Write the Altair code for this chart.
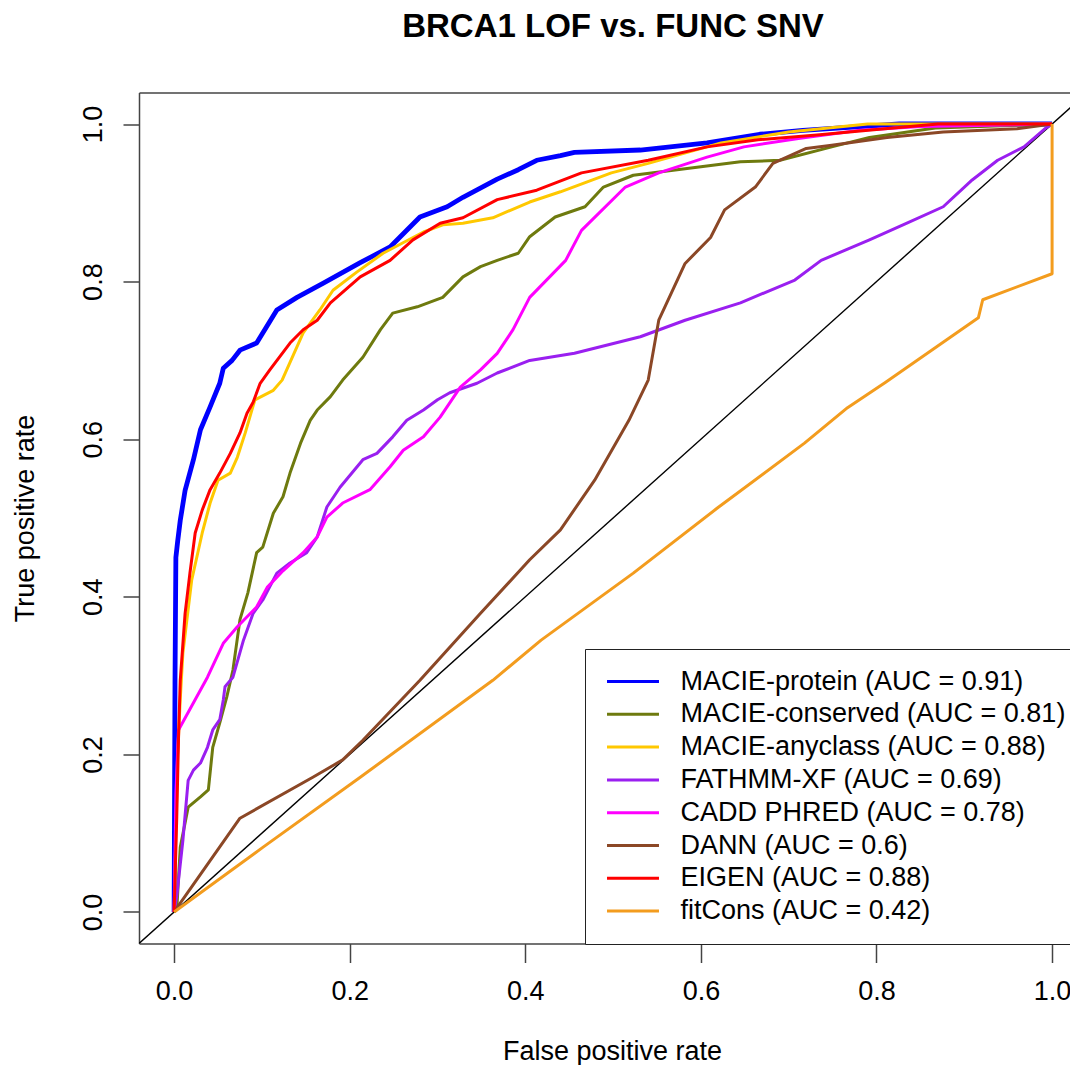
import altair as alt
import pandas as pd

# ---- series names and AUC values (legend order) ----
names = ["MACIE-protein", "MACIE-conserved", "MACIE-anyclass", "FATHMM-XF",
         "CADD PHRED", "DANN", "EIGEN", "fitCons"]
aucs = ["0.91", "0.81", "0.88", "0.69", "0.78", "0.6", "0.88", "0.42"]
colors = ["#0000FF", "#6E7A0E", "#FFC800", "#9A1FF0", "#FF00FF", "#8B4726", "#FF0000", "#F39C1E"]

# ---- ROC curves ----
protein_x = [0, 0.001, 0.002, 0.004, 0.007, 0.0125, 0.022, 0.03, 0.041, 0.052, 0.056, 0.066, 0.075, 0.094,
             0.117, 0.14, 0.17, 0.212, 0.246, 0.28, 0.311, 0.329, 0.368, 0.392, 0.413, 0.44, 0.456, 0.531,
             0.607, 0.667, 0.716, 0.826, 1.0]
protein_y = [0, 0.29, 0.45, 0.47, 0.497, 0.535, 0.574, 0.612, 0.641, 0.671, 0.69, 0.70, 0.713, 0.722,
             0.764, 0.78, 0.798, 0.824, 0.844, 0.882, 0.895, 0.907, 0.93, 0.942, 0.954, 0.96, 0.964, 0.967,
             0.976, 0.987, 0.992, 1.0, 1.0]

conserved_x = [0, 0.003, 0.007, 0.016, 0.03, 0.039, 0.044, 0.052, 0.06, 0.067, 0.075, 0.084, 0.094, 0.101,
               0.113, 0.124, 0.132, 0.144, 0.155, 0.163, 0.178, 0.192, 0.215, 0.235, 0.249, 0.277, 0.306,
               0.329, 0.349, 0.368, 0.392, 0.405, 0.434, 0.468, 0.489, 0.523, 0.573, 0.645, 0.69, 0.749,
               0.792, 0.867, 1.0]
conserved_y = [0, 0.003, 0.082, 0.133, 0.146, 0.155, 0.209, 0.24, 0.273, 0.307, 0.371, 0.405, 0.456, 0.463,
               0.506, 0.527, 0.557, 0.595, 0.624, 0.637, 0.654, 0.675, 0.704, 0.739, 0.76, 0.768, 0.78,
               0.806, 0.819, 0.827, 0.836, 0.857, 0.882, 0.895, 0.92, 0.935, 0.942, 0.952, 0.954, 0.971,
               0.983, 0.995, 1.0]

anyclass_x = [0, 0.002, 0.004, 0.007, 0.01, 0.02, 0.032, 0.041, 0.05, 0.064, 0.072, 0.081, 0.092, 0.113,
              0.123, 0.147, 0.166, 0.181, 0.208, 0.238, 0.284, 0.306, 0.329, 0.363, 0.405, 0.44, 0.498,
              0.54, 0.623, 0.7, 0.79, 1.0]
anyclass_y = [0, 0.1, 0.2, 0.27, 0.329, 0.421, 0.481, 0.519, 0.548, 0.557, 0.577, 0.608, 0.65, 0.662,
              0.675, 0.735, 0.764, 0.789, 0.812, 0.836, 0.863, 0.872, 0.874, 0.881, 0.901, 0.914, 0.938,
              0.95, 0.976, 0.99, 1.0, 1.0]

fathmm_x = [0, 0.003, 0.01, 0.016, 0.022, 0.03, 0.038, 0.044, 0.052, 0.056, 0.058, 0.067, 0.079, 0.09,
            0.101, 0.117, 0.132, 0.151, 0.163, 0.174, 0.189, 0.215, 0.231, 0.249, 0.265, 0.284, 0.3, 0.314,
            0.345, 0.368, 0.405, 0.456, 0.531, 0.582, 0.645, 0.707, 0.737, 0.792, 0.834, 0.876, 0.909,
            0.938, 0.968, 0.993, 1.0]
fathmm_y = [0, 0.02, 0.091, 0.167, 0.18, 0.189, 0.209, 0.231, 0.244, 0.269, 0.286, 0.298, 0.345, 0.379,
            0.396, 0.43, 0.443, 0.456, 0.476, 0.514, 0.539, 0.574, 0.582, 0.603, 0.624, 0.637, 0.65, 0.659,
            0.671, 0.684, 0.7, 0.709, 0.73, 0.751, 0.773, 0.802, 0.827, 0.853, 0.874, 0.895, 0.929,
            0.954, 0.971, 0.995, 1.0]

cadd_x = [0, 0.002, 0.005, 0.038, 0.056, 0.072, 0.094, 0.106, 0.124, 0.147, 0.163, 0.174, 0.192, 0.223,
          0.246, 0.261, 0.284, 0.303, 0.326, 0.349, 0.368, 0.386, 0.405, 0.446, 0.464, 0.514, 0.552,
          0.607, 0.649, 0.713, 0.781, 0.85, 1.0]
cadd_y = [0, 0.15, 0.231, 0.298, 0.341, 0.362, 0.387, 0.412, 0.433, 0.456, 0.476, 0.501, 0.519, 0.536,
          0.565, 0.586, 0.603, 0.628, 0.666, 0.688, 0.709, 0.739, 0.78, 0.827, 0.865, 0.92, 0.938,
          0.958, 0.971, 0.982, 0.992, 0.997, 1.0]

dann_x = [0, 0.075, 0.158, 0.192, 0.215, 0.28, 0.349, 0.405, 0.44, 0.479, 0.518, 0.54, 0.552, 0.582,
          0.611, 0.627, 0.662, 0.682, 0.72, 0.749, 0.812, 0.876, 0.96, 1.0]
dann_y = [0, 0.119, 0.171, 0.193, 0.218, 0.294, 0.379, 0.447, 0.485, 0.548, 0.624, 0.675, 0.751, 0.823,
          0.856, 0.891, 0.92, 0.95, 0.969, 0.973, 0.983, 0.99, 0.994, 1.0]

eigen_x = [0, 0.003, 0.005, 0.007, 0.0125, 0.018, 0.024, 0.032, 0.041, 0.052, 0.064, 0.075, 0.083, 0.09,
           0.098, 0.109, 0.132, 0.147, 0.163, 0.178, 0.212, 0.246, 0.272, 0.303, 0.329, 0.368, 0.413,
           0.464, 0.54, 0.607, 0.665, 0.732, 0.8, 0.87, 1.0]
eigen_y = [0, 0.12, 0.22, 0.294, 0.379, 0.43, 0.481, 0.51, 0.536, 0.557, 0.582, 0.608, 0.633, 0.647,
           0.671, 0.688, 0.722, 0.739, 0.751, 0.773, 0.806, 0.827, 0.853, 0.874, 0.881, 0.904, 0.916,
           0.938, 0.954, 0.971, 0.98, 0.986, 0.993, 1.0, 1.0]

fitcons_x = [0, 0.101, 0.212, 0.363, 0.418, 0.523, 0.618, 0.718, 0.767, 0.81, 0.916, 0.921, 1.0, 1.0]
fitcons_y = [0, 0.082, 0.171, 0.294, 0.345, 0.43, 0.512, 0.595, 0.64, 0.672, 0.754, 0.777, 0.81, 1.0]

diag_x = [-0.1, 1.1]
diag_y = [-0.1, 1.1]

tick_values = [0.0, 0.2, 0.4, 0.6, 0.8, 1.0]

series_x = [protein_x, conserved_x, anyclass_x, fathmm_x, cadd_x, dann_x, eigen_x, fitcons_x]
series_y = [protein_y, conserved_y, anyclass_y, fathmm_y, cadd_y, dann_y, eigen_y, fitcons_y]

labels = [f"{n} (AUC = {a})" for n, a in zip(names, aucs)]

rows = []
for lab, xs, ys in zip(labels, series_x, series_y):
    for i, (xv, yv) in enumerate(zip(xs, ys)):
        rows.append({"model": lab, "i": i, "fpr": xv, "tpr": yv})
df = pd.DataFrame(rows)
diag_df = pd.DataFrame({"fpr": diag_x, "tpr": diag_y})

FONT = "Liberation Sans"
FRAME = "#444444"
x_scale = alt.Scale(domain=[-0.04, 1.0204], nice=False, zero=False)
y_scale = alt.Scale(domain=[-0.04, 1.04], nice=False, zero=False)

x_bottom = alt.X("fpr:Q", scale=x_scale,
                 axis=alt.Axis(orient="bottom", values=tick_values, format=".1f", tickSize=19,
                               labelPadding=16, domain=True,
                               title="False positive rate", titleX=473, titleY=116,
                               titleBaseline="alphabetic", titleAlign="center"))
x_top = alt.X("fpr:Q", scale=x_scale,
              axis=alt.Axis(orient="top", domain=True, ticks=False, labels=False, title=None))
y_enc = alt.Y("tpr:Q", scale=y_scale,
              axis=alt.Axis(values=tick_values, format=".1f", tickSize=16, labelAngle=270,
                            labelAlign="center", labelBaseline="alphabetic", labelPadding=22,
                            domain=True,
                            title="True positive rate", titleAngle=270, titleX=-106, titleY=425.5,
                            titleBaseline="alphabetic", titleAlign="center"))

diag = alt.Chart(diag_df).mark_line(color="black", strokeWidth=1.4, clip=True).encode(
    x=x_top, y=y_enc)

curves = alt.Chart(df).mark_line(clip=True, strokeJoin="round").encode(
    x=x_bottom,
    y=y_enc,
    order=alt.Order("i:Q"),
    color=alt.Color("model:N", sort=labels,
                    scale=alt.Scale(domain=labels, range=colors),
                    legend=alt.Legend(orient="none", legendX=446, legendY=556.5, title=None,
                                      symbolType="M-3,0H3", symbolSize=300, symbolStrokeWidth=3,
                                      labelFont=FONT, labelFontSize=27, labelColor="black",
                                      labelLimit=900, padding=19, rowPadding=4.8,
                                      symbolOffset=15.5, labelOffset=34,
                                      strokeColor="#222", fillColor="white", cornerRadius=0,
                                      labelExpr="datum.label + '\u00a0\u00a0\u00a0\u00a0\u00a0\u00a0'")),
    strokeWidth=alt.condition(alt.datum.model == labels[0], alt.value(4.8), alt.value(3)),
)

chart = alt.layer(diag, curves).resolve_axis(x="independent").properties(
    width=931, height=851,
    title=alt.TitleParams("BRCA1 LOF vs. FUNC SNV", font=FONT, fontSize=33, fontWeight="bold",
                          color="black", anchor="middle", frame="group", baseline="alphabetic",
                          offset=22.5, dx=8.5),
    autosize=alt.AutoSizeParams(type="none"),
    padding={"left": 131, "top": 84.5, "right": 0, "bottom": 121.5},
).configure_view(
    stroke=None
).configure_axis(
    grid=False, domainColor=FRAME, domainWidth=1.5, tickColor=FRAME, tickWidth=1.5,
    labelFont=FONT, labelFontSize=27, labelColor="black",
    titleFont=FONT, titleFontSize=27, titleFontWeight="normal", titleColor="black",
)

chart.save("out.html", embed_options={"renderer": "svg", "actions": False})
